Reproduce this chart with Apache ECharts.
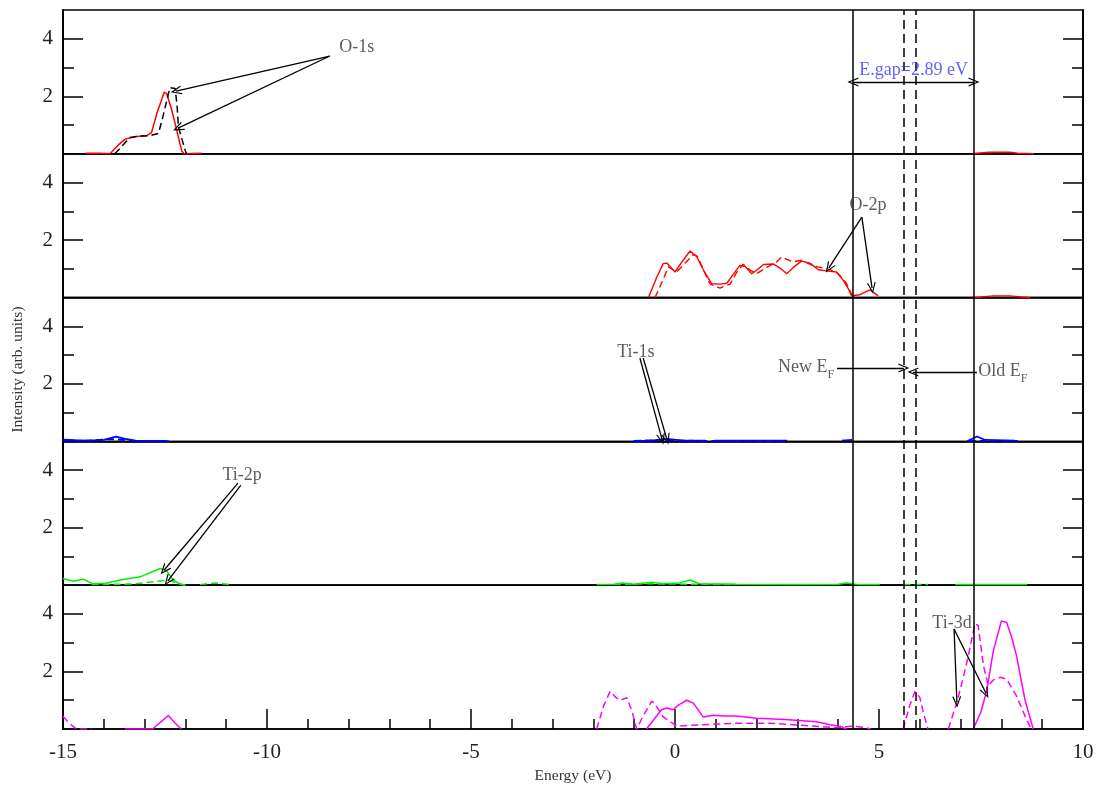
<!DOCTYPE html>
<html>
<head>
<meta charset="utf-8">
<script src="https://cdn.jsdelivr.net/npm/echarts@6/dist/echarts.min.js"></script>
<style>html,body{margin:0;padding:0;background:#fff}#c{width:1109px;height:793px}</style>
</head>
<body>
<div id="c"></div>
<script>
// ---------- DATA (energy eV, intensity arb. units); null = gap ----------
var xTicks = [-15, -10, -5, 0, 5, 10];
var yTickLabels = [2, 4];

var o1sRed = [[-14.45,0.02],[-14.1,0.02],[-13.85,0],[-13.65,0.3],[-13.48,0.51],[-13.2,0.6],[-12.95,0.63],[-12.83,0.74],[-12.7,1.4],[-12.52,2.14],[-12.46,2.1],[-12.35,1.6],[-12.25,1.04],[-12.09,0.1],[-12.03,0],[-11.6,0.02],
  null,[7.3,0],[7.4,0.02],[7.7,0.05],[8.2,0.05],[8.4,0.02],[8.8,0]];
var o1sBlack = [[-13.73,0],[-13.5,0.35],[-13.36,0.57],[-13.1,0.62],[-12.87,0.63],[-12.66,0.71],[-12.55,1.3],[-12.38,2.3],[-12.25,2.27],[-12.2,1.6],[-12.17,0.92],[-12.0,0.1],[-11.97,0]];

var o2pSolid = [[-0.65,0],[-0.45,0.7],[-0.29,1.18],[-0.2,1.2],[0.0,0.89],[0.2,1.3],[0.37,1.62],[0.53,1.43],[0.7,0.95],[0.9,0.48],[1.1,0.47],[1.27,0.5],[1.45,0.85],[1.59,1.12],[1.72,1.08],[1.88,0.83],[2.0,0.95],[2.17,1.15],[2.41,1.17],[2.6,1.0],[2.74,0.83],[2.9,1.05],[3.1,1.27],[3.31,1.2],[3.51,0.97],[3.75,0.92],[3.96,0.89],[4.13,0.59],[4.25,0.3],[4.33,0.06],[4.53,0.1],[4.78,0.27],[4.98,0.06],
  null,[7.3,0],[7.5,0.02],[7.8,0.06],[8.2,0.06],[8.5,0.02],[8.7,0]];
var o2pDashed = [[-0.49,0],[-0.3,0.6],[-0.16,1.07],[0.04,0.89],[0.25,1.2],[0.45,1.5],[0.55,1.43],[0.65,1.12],[0.86,0.47],[1.1,0.33],[1.35,0.47],[1.5,0.85],[1.67,1.16],[1.85,0.95],[2.0,0.83],[2.25,1.05],[2.49,1.24],[2.61,1.41],[2.89,1.24],[3.1,1.3],[3.4,1.1],[3.8,0.97],[4.0,0.83],[4.2,0.5],[4.35,0.05]];

var ti1sSolid = [[-15,0.06],[-14.7,0.04],[-14.4,0.03],[-14.0,0.05],[-13.7,0.17],[-13.5,0.1],[-13.2,0.02],[-12.5,0.02],[-12.4,0],
  null,[-1.03,0],[-0.6,0.03],[-0.2,0.09],[0.2,0.03],[0.74,0.03],
  null,[0.98,0.03],[1.9,0.03],[2.75,0.03],
  null,[4.09,0.03],[4.34,0.05],
  null,[7.16,0],[7.4,0.17],[7.6,0.05],[8.33,0.03]];
var ti1sDashed = [[-15,0.03],[-14.5,0.02],[-13.8,0.08],[-13.2,0.02],[-12.5,0],
  null,[-1.0,0.02],[-0.3,0.05],[0.5,0.02],[2.7,0.02],
  null,[7.2,0.02],[8.4,0.02]];

var ti2pSolid = [[-15,0.23],[-14.75,0.14],[-14.5,0.21],[-14.26,0.04],[-13.93,0.08],[-13.6,0.18],[-13.11,0.29],[-12.62,0.58],[-12.46,0.5],[-12.3,0.18],[-12.13,0.04],[-12.0,0],
  null,[-1.92,0.02],[-1.5,0.03],[-1.27,0.08],[-1.0,0.03],[-0.57,0.1],[-0.3,0.05],[0.1,0.08],[0.37,0.18],[0.6,0.05],[1.5,0.03],[3.0,0.02],[4.0,0.03],[4.2,0.08],[4.5,0.02],[5.02,0.02],
  null,[6.87,0.02],[8.63,0.02]];
var ti2pDashed = [[-14.3,0.02],[-13.3,0.04],[-12.87,0.11],[-12.43,0.18],[-12.2,0.06],[-12.0,0],
  null,[-11.64,0.02],[-11.27,0.08],[-10.9,0.02],
  null,[-1.5,0.02],[-0.8,0.05],[0,0.04],[1.5,0.02],
  null,[5.6,0.02],[6.2,0.02]];

var ti3dSolid = [[-13.48,0],[-12.8,0],[-12.6,0.25],[-12.42,0.47],[-12.25,0.2],[-12.1,0],
  null,[-0.7,0],[-0.45,0.45],[-0.33,0.67],[-0.2,0.73],[-0.05,0.67],[0.1,0.85],[0.29,1.0],[0.45,0.9],[0.69,0.42],[0.94,0.48],[1.2,0.45],[1.51,0.45],[2.0,0.37],[2.7,0.33],[3.47,0.25],[3.8,0.15],[4.04,0.1],[4.2,0],
  null,[7.31,0],[7.5,0.6],[7.64,1.33],[7.8,2.7],[8.0,3.76],[8.13,3.7],[8.25,3.2],[8.37,2.55],[8.58,1.0],[8.78,0]];
var ti3dDashed = [[-15,0.44],[-14.85,0.2],[-14.67,0],[-14.3,0],
  null,[-1.92,0],[-1.75,0.8],[-1.59,1.31],[-1.45,1.1],[-1.35,1.0],[-1.18,1.09],[-1.05,0.6],[-0.94,0],[-0.8,0.4],[-0.57,0.97],[-0.5,0.89],[-0.29,0.42],[0.04,0.1],[0.69,0.15],[1.5,0.2],[2.33,0.2],[3.2,0.12],[3.96,0.05],[4.37,0.1],[4.66,0.05],[4.8,0],
  null,[5.59,0],[5.75,0.8],[5.88,1.3],[6.0,1.1],[6.1,0.5],[6.2,0],
  null,[6.7,0],[6.9,0.89],[7.05,1.7],[7.19,2.55],[7.35,3.66],[7.43,3.6],[7.56,2.2],[7.68,1.5],[7.8,1.7],[7.97,1.8],[8.13,1.73],[8.37,1.15],[8.62,0.32],[8.73,0]];

// reference lines (eV)
var solidLines = [4.36, 7.33];
var dashedLines = [5.61, 5.89];

// annotations in stacked coordinates (panel k from top occupies y = 5*(4-k) .. 5*(5-k))
var labelTexts = ['O-1s', 'O-2p', 'Ti-1s', 'Ti-2p', 'Ti-3d'];
var labelPos = [[-7.8,23.71],[4.73,18.22],[-0.96,13.11],[-10.61,8.83],[6.79,3.69]];
var arrowSegs = [
  [[-8.46,23.40],[-12.23,22.18]], [[-8.46,23.40],[-12.18,20.89]],
  [[4.58,17.80],[3.77,16.03]], [[4.58,17.80],[4.83,15.33]],
  [[-0.86,12.90],[-0.32,10.08]], [[-0.78,12.90],[-0.20,10.08]],
  [[-10.71,8.55],[-12.52,5.53]], [[-10.64,8.48],[-12.43,5.15]],
  [[6.84,3.48],[6.91,0.94]], [[6.84,3.48],[7.62,1.25]],
  [[3.97,12.55],[5.61,12.55]], [[7.40,12.41],[5.83,12.41]]
];
var gapArrow = [[4.36,22.5],[7.33,22.5]];
var gapText = 'E.gap=2.89 eV';
var gapTextPos = [5.85,22.9];
var efText = [{t:'New E', p:[3.9,12.59], align:'right'}, {t:'Old E', p:[7.43,12.45], align:'left'}];

// ---------- CHART ----------
var FONT = 'Liberation Serif';
var L = 63, R = 26, TOP = 10, PH = 143.8, NP = 5;
var chevron = 'path://M5,0 L10,10 L8.6,10 L5,2.6 L1.4,10 L0,10 Z';

var grids = [], xAxes = [], yAxes = [], series = [];
for (var i = 0; i < NP; i++) {
  grids.push({left: L, right: R, top: TOP + i * PH, height: PH, show: true, borderColor: '#000', borderWidth: 1.5, containLabel: false});
  var last = (i === NP - 1);
  xAxes.push({
    type: 'value', gridIndex: i, min: -15, max: 10, interval: 5,
    axisLine: {show: true, onZero: false, lineStyle: {color: '#000', width: 1.5}},
    axisTick: {show: last, inside: true, length: 20, lineStyle: {color: '#000', width: 1.5}},
    minorTick: {show: last, splitNumber: 5, length: 10, lineStyle: {color: '#000', width: 1.5}},
    axisLabel: {show: last, fontFamily: FONT, fontSize: 21, color: '#222', margin: 13,
      customValues: xTicks},
    splitLine: {show: false},
    name: last ? 'Energy (eV)' : '', nameLocation: 'middle', nameGap: 39,
    nameTextStyle: {fontFamily: FONT, fontSize: 15.5, color: '#333'}
  });
  var base = {type: 'value', gridIndex: i, min: 0, max: 5, splitLine: {show: false},
    axisLine: {show: true, onZero: false, lineStyle: {color: '#000', width: 1.5}}};
  yAxes.push(Object.assign({}, base, {position: 'left', interval: 1,
    axisTick: {show: true, inside: true, length: 20, customValues: yTickLabels, lineStyle: {color: '#000', width: 1.5}},
    axisLabel: {show: true, customValues: yTickLabels, fontFamily: FONT, fontSize: 21, color: '#222', margin: 10},
    name: i === 2 ? 'Intensity (arb. units)' : '', nameLocation: 'middle', nameGap: 37, nameRotate: 90,
    nameTextStyle: {fontFamily: FONT, fontSize: 15.5, color: '#333'}}));
  yAxes.push(Object.assign({}, base, {position: 'left', interval: 1,
    axisTick: {show: true, inside: true, length: 11, customValues: [1, 3], lineStyle: {color: '#000', width: 1.5}},
    axisLabel: {show: false}}));
  yAxes.push(Object.assign({}, base, {position: 'right', interval: 1,
    axisTick: {show: true, inside: true, length: 20, customValues: yTickLabels, lineStyle: {color: '#000', width: 1.5}},
    axisLabel: {show: false}}));
  yAxes.push(Object.assign({}, base, {position: 'right', interval: 1,
    axisTick: {show: true, inside: true, length: 11, customValues: [1, 3], lineStyle: {color: '#000', width: 1.5}},
    axisLabel: {show: false}}));
}

function lineSeries(panel, data, color, dashed, width) {
  return {type: 'line', xAxisIndex: panel, yAxisIndex: panel * 4, data: data,
    showSymbol: false, symbol: 'none', connectNulls: false, z: 3,
    lineStyle: {color: color, width: width || 1.5, type: dashed ? [7, 4] : 'solid'}};
}
series.push(lineSeries(0, o1sRed, '#ff0000', false));
series.push(lineSeries(0, o1sBlack, '#000000', true, 1.5));
series.push(lineSeries(1, o2pSolid, '#ff0000', false, 1.4));
series.push(lineSeries(1, o2pDashed, '#ff0000', true, 1.4));
series.push(lineSeries(2, ti1sSolid, '#0000ff', false, 1.8));
series.push(lineSeries(2, ti1sDashed, '#0000ff', true, 1.8));
series.push(lineSeries(3, ti2pSolid, '#00ee00', false));
series.push(lineSeries(3, ti2pDashed, '#00ee00', true));
series.push(lineSeries(4, ti3dSolid, '#ff00ff', false));
series.push(lineSeries(4, ti3dDashed, '#ff00ff', true));

// overlay grid for reference lines and annotations
var OV = NP;
grids.push({left: L, right: R, top: TOP, height: PH * NP, show: false});
xAxes.push({type: 'value', gridIndex: OV, min: -15, max: 10, show: false});
yAxes.push({type: 'value', gridIndex: OV, min: 0, max: 25, show: false});
var OVY = yAxes.length - 1;

var vl = [];
solidLines.forEach(function (x) { vl.push({xAxis: x, lineStyle: {type: 'solid', color: '#000', width: 1.5}}); });
dashedLines.forEach(function (x) { vl.push({xAxis: x, lineStyle: {type: [9, 5], color: '#000', width: 1.5}}); });

var arrows = arrowSegs.map(function (s) {
  return [{coord: s[0]}, {coord: s[1]}];
});
arrows.push([{coord: gapArrow[0], symbol: chevron}, {coord: gapArrow[1]}]);

var textData = labelTexts.map(function (t, k) {
  return {value: labelPos[k], label: {formatter: t}};
});
textData.push({value: gapTextPos, label: {formatter: gapText, color: '#3a3aff'}});
efText.forEach(function (e) {
  textData.push({value: e.p, label: {formatter: e.t + '{s|F}', align: e.align}});
});

series.push({
  type: 'line', xAxisIndex: OV, yAxisIndex: OVY, data: [], silent: true, z: 5,
  markLine: {silent: true, symbol: 'none', label: {show: false}, animation: false, data: vl}
});
series.push({
  type: 'line', xAxisIndex: OV, yAxisIndex: OVY, data: [], silent: true, z: 6,
  markLine: {silent: true, symbol: ['none', chevron], symbolSize: [9, 11], label: {show: false}, animation: false,
    lineStyle: {color: '#000', width: 1.3, type: 'solid'}, data: arrows}
});
series.push({
  type: 'scatter', xAxisIndex: OV, yAxisIndex: OVY, symbolSize: 0, z: 7, silent: true,
  data: textData,
  label: {show: true, position: 'inside', fontFamily: FONT, fontSize: 18, color: '#333',
    rich: {s: {fontFamily: FONT, fontSize: 12, color: '#333', padding: [16, 0, 0, 0]}}}
});

var chart = echarts.init(document.getElementById('c'), null, {renderer: 'canvas'});
chart.setOption({
  animation: false,
  backgroundColor: '#fff',
  grid: grids, xAxis: xAxes, yAxis: yAxes, series: series
});
</script>
</body>
</html>
